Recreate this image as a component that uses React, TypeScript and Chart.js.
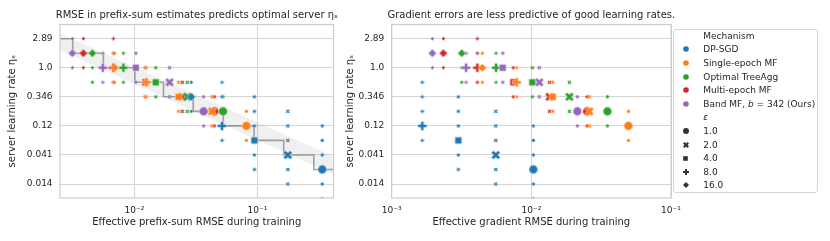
import React, { useEffect, useRef } from 'react';
import { Chart, registerables } from 'chart.js';

Chart.register(...registerables);

const FONT = 'DejaVu Sans';
const TEXT = '#262626';
const GRID = '#d5d5d5';
const SPINE = '#cccccc';

// ---------------- categories ----------------
const mechanisms = ['DP-SGD', 'Single-epoch MF', 'Optimal TreeAgg', 'Multi-epoch MF', 'Band MF'];
const mechColors = ['#1f77b4', '#ff7f0e', '#2ca02c', '#d62728', '#9467bd'];
const epsilonLabels = ['1.0', '2.0', '4.0', '8.0', '16.0'];
const epsilonMarkers = ['o', 'X', 's', 'P', 'D'];

// ---------------- axis ticks ----------------
const etaTicks = [2.89, 1.0, 0.346, 0.1197, 0.0414, 0.01433];
const etaTickLabels = ['2.89', '1.0', '0.346', '0.12', '0.041', '0.014'];
const prefixTicks = [0.01, 0.1];
const prefixTickLabels = ['10⁻²', '10⁻¹'];
const gradTicks = [0.001, 0.01, 0.1];
const gradTickLabels = ['10⁻³', '10⁻²', '10⁻¹'];

// ---------------- effective prefix-sum RMSE (eps = 1, 2, 4, 8, 16) ----------------
const prefixRmseDPSGD = [0.3368, 0.1766, 0.09454, 0.05156, 0.02898];
const prefixRmseSingle = [0.08135, 0.04274, 0.02284, 0.01246, 0.006898];
const prefixRmseTree = [0.05254, 0.02689, 0.01489, 0.008134, 0.004546];
const prefixRmseMulti = [0.0447, 0.0245, 0.01223, 0.006745, 0.003842];
const prefixRmseBand = [0.0365, 0.01929, 0.01027, 0.005527, 0.003125];

// ---------------- effective gradient RMSE (eps = 1, 2, 4, 8, 16) ----------------
const gradRmseDPSGD = [0.01033, 0.005559, 0.003, 0.001656, 0.0008];
const gradRmseSingle = [0.04954, 0.02603, 0.01424, 0.007859, 0.004457];
const gradRmseTree = [0.03503, 0.01872, 0.01017, 0.005586, 0.003172];
const gradRmseMulti = [0.02506, 0.0135, 0.007431, 0.004104, 0.002342];
const gradRmseBand = [0.02135, 0.01141, 0.006239, 0.003406, 0.001954];

// ---------------- best server learning rate (eps = 1, 2, 4, 8, 16) ----------------
const bestEtaDPSGD = [0.0244, 0.0414, 0.0704, 0.1197, 0.346];
const bestEtaSingle = [0.1197, 0.2035, 0.346, 0.588, 1.0];
const bestEtaTree = [0.2035, 0.346, 0.588, 1.0, 1.7];
const bestEtaMulti = [0.2035, 0.346, 0.588, 1.0, 1.7];
const bestEtaBand = [0.2035, 0.588, 1.0, 1.0, 1.7];

// ---------------- learning rates tried (eps = 1, 2, 4, 8, 16) ----------------
const triedEtaDPSGD = [
  [0.1197, 0.0704, 0.0414, 0.0244, 0.01433, 0.00843],
  [0.2035, 0.1197, 0.0704, 0.0414, 0.0244, 0.01433],
  [0.346, 0.2035, 0.1197, 0.0704, 0.0414, 0.0244],
  [0.588, 0.346, 0.2035, 0.1197, 0.0704],
  [0.588, 0.346, 0.2035],
];
const triedEtaSingle = [
  [0.2035, 0.1197, 0.0704],
  [0.346, 0.2035, 0.1197],
  [0.588, 0.346, 0.2035],
  [1.0, 0.588, 0.346],
  [1.7, 1.0, 0.588],
];
const triedEtaTree = [
  [0.346, 0.2035, 0.1197],
  [0.588, 0.346, 0.2035],
  [1.0, 0.588, 0.346],
  [1.7, 1.0, 0.588],
  [1.7, 1.0, 0.588],
];
const triedEtaMulti = [
  [0.346, 0.2035, 0.1197],
  [0.588, 0.346, 0.2035],
  [1.0, 0.588, 0.346],
  [2.89, 1.7, 1.0, 0.588],
  [2.89, 1.7, 1.0],
];
const triedEtaBand = [
  [0.346, 0.2035, 0.1197],
  [1.0, 0.588, 0.346],
  [1.7, 1.0, 0.588],
  [1.7, 1.0, 0.588],
  [2.89, 1.7, 1.0],
];

// ---------------- predicted learning rate (step line) and band ----------------
const stepRmse = [0.00248, 0.003147, 0.005589, 0.01008, 0.01723, 0.03009, 0.05283, 0.094, 0.1638, 0.2876, 0.416];
const stepEta = [2.89, 1.7, 1.0, 0.588, 0.346, 0.2035, 0.1197, 0.0704, 0.0414, 0.0244, 0.0244];
const bandRmse = [0.00248, 0.416];
const bandEtaHigh = [3.5, 0.039];
const bandEtaLow = [1.92, 0.0201];

const series = [
  { prefix: prefixRmseDPSGD, grad: gradRmseDPSGD, best: bestEtaDPSGD, tried: triedEtaDPSGD },
  { prefix: prefixRmseSingle, grad: gradRmseSingle, best: bestEtaSingle, tried: triedEtaSingle },
  { prefix: prefixRmseTree, grad: gradRmseTree, best: bestEtaTree, tried: triedEtaTree },
  { prefix: prefixRmseMulti, grad: gradRmseMulti, best: bestEtaMulti, tried: triedEtaMulti },
  { prefix: prefixRmseBand, grad: gradRmseBand, best: bestEtaBand, tried: triedEtaBand },
];

// drawing stack, bottom -> top
const drawStack = [3, 2, 0, 1, 4];

// ---------------- marker shapes ----------------
const PLUS_PTS = [[-1, -3], [1, -3], [1, -1], [3, -1], [3, 1], [1, 1], [1, 3], [-1, 3], [-1, 1], [-3, 1], [-3, -1], [-1, -1]];
const X_PTS = [[-1, -2], [0, -1], [1, -2], [2, -1], [1, 0], [2, 1], [1, 2], [0, 1], [-1, 2], [-2, 1], [-1, 0], [-2, -1]];
const BIG_SIZE: Record<string, number> = { o: 8.8, X: 9.0, s: 6.8, P: 9.0, D: 8.4 };
const SMALL_SIZE: Record<string, number> = { o: 3.6, X: 4.2, s: 3.2, P: 4.2, D: 4.0 };

function polyPts(shape: string, size: number): number[][] {
  const h = size / 2;
  if (shape === 's') return [[-h, -h], [h, -h], [h, h], [-h, h]];
  if (shape === 'D') return [[0, -h], [h, 0], [0, h], [-h, 0]];
  const pts = shape === 'P' ? PLUS_PTS : X_PTS;
  const f = shape === 'P' ? size / 6 : size / 4;
  return pts.map(([a, b]) => [a * f, b * f]);
}

function makeMarker(shape: string, color: string, size: number, edge: number): HTMLCanvasElement {
  const dim = Math.ceil(size + edge * 2 + 4);
  const c = document.createElement('canvas');
  c.width = dim;
  c.height = dim;
  const ctx = c.getContext('2d')!;
  ctx.translate(dim / 2, dim / 2);
  ctx.beginPath();
  if (shape === 'o') {
    ctx.arc(0, 0, size / 2, 0, Math.PI * 2);
  } else {
    polyPts(shape, size).forEach(([x, y], i) => (i ? ctx.lineTo(x, y) : ctx.moveTo(x, y)));
    ctx.closePath();
  }
  ctx.fillStyle = color;
  ctx.fill();
  if (edge > 0) {
    ctx.lineWidth = edge;
    ctx.strokeStyle = '#ffffff';
    ctx.lineJoin = 'miter';
    ctx.stroke();
  }
  return c;
}

function svgPath(shape: string, size: number): string {
  const h = size / 2;
  if (shape === 'o') return `M ${h} 0 A ${h} ${h} 0 1 0 ${-h} 0 A ${h} ${h} 0 1 0 ${h} 0 Z`;
  return 'M ' + polyPts(shape, size).map(([x, y]) => `${x.toFixed(2)} ${y.toFixed(2)}`).join(' L ') + ' Z';
}

const framePlugin = {
  id: 'frame',
  afterDatasetsDraw(chart: any) {
    const { ctx, chartArea: a } = chart;
    ctx.save();
    ctx.strokeStyle = SPINE;
    ctx.lineWidth = 1.2;
    ctx.strokeRect(a.left, a.top, a.right - a.left, a.bottom - a.top);
    ctx.restore();
  },
};

// panel title centred over the plotting area (wider than the area, so not squeezed)
const panelTitlePlugin = {
  id: 'panelTitle',
  afterDraw(chart: any, _args: any, opts: any) {
    if (!opts || !opts.text) return;
    const { ctx, chartArea: a } = chart;
    ctx.save();
    ctx.font = `10px ${FONT}`;
    ctx.fillStyle = TEXT;
    ctx.textAlign = 'center';
    ctx.textBaseline = 'middle';
    ctx.fillText(opts.text, (a.left + a.right) / 2, opts.y);
    ctx.restore();
  },
};

function labelFrom(values: number[], labels: string[]) {
  return (v: any) => {
    const val = Number(v);
    let best = 0;
    values.forEach((t, i) => {
      if (Math.abs(Math.log(t / val)) < Math.abs(Math.log(values[best] / val))) best = i;
    });
    return labels[best];
  };
}

type PanelCfg = {
  which: 'prefix' | 'grad';
  title: string;
  xTitle: string;
  xMin: number;
  xMax: number;
  xTicks: number[];
  xTickLabels: string[];
  yAxisWidth: number;
  yTitlePad: number;
  padRight: number;
  withStep: boolean;
};

function buildConfig(cfg: PanelCfg, markers: HTMLCanvasElement[][][]): any {
  const datasets: any[] = [];
  drawStack.forEach((m, pos) => {
    const s = series[m];
    const xs = cfg.which === 'prefix' ? s.prefix : s.grad;
    const small: any[] = [];
    s.tried.forEach((list, e) => {
      list.forEach((eta) => {
        if (eta !== s.best[e]) small.push({ x: xs[e], y: eta, e });
      });
    });
    const big = s.best.map((eta, e) => ({ x: xs[e], y: eta, e }));
    const styleFor = (sz: number) => (ctx: any) => (ctx.raw ? markers[m][ctx.raw.e][sz] : 'circle');
    datasets.push({
      type: 'scatter',
      label: mechanisms[m] + ' (other)',
      data: small,
      order: 40 - pos,
      pointStyle: styleFor(0),
      pointRadius: 2,
      borderWidth: 0,
    });
    datasets.push({
      type: 'scatter',
      label: mechanisms[m],
      data: big,
      order: 20 - pos,
      pointStyle: styleFor(1),
      pointRadius: 4,
      borderWidth: 0,
    });
  });
  if (cfg.withStep) {
    datasets.push({
      type: 'line',
      label: 'band high',
      data: bandRmse.map((x, i) => ({ x, y: bandEtaHigh[i] })),
      order: 91,
      fill: '+1',
      backgroundColor: 'rgba(140,140,140,0.13)',
      borderColor: 'transparent',
      borderWidth: 0,
      pointRadius: 0,
    });
    datasets.push({
      type: 'line',
      label: 'band low',
      data: bandRmse.map((x, i) => ({ x, y: bandEtaLow[i] })),
      order: 92,
      fill: false,
      borderColor: 'transparent',
      borderWidth: 0,
      pointRadius: 0,
    });
    datasets.push({
      type: 'line',
      label: 'predicted',
      data: stepRmse.map((x, i) => ({ x, y: stepEta[i] })),
      order: 80,
      stepped: true,
      fill: false,
      borderColor: 'rgba(128,128,128,0.72)',
      borderWidth: 1.6,
      pointRadius: 0,
    });
  }

  return {
    type: 'scatter',
    data: { datasets },
    options: {
      responsive: false,
      animation: false,
      events: [],
      layout: { padding: { left: 0, right: cfg.padRight, top: 24.5, bottom: 0 } },
      plugins: {
        legend: { display: false },
        tooltip: { enabled: false },
        title: { display: false },
        panelTitle: { text: cfg.title, y: 15.3 },
      },
      scales: {
        x: {
          type: 'logarithmic',
          min: cfg.xMin,
          max: cfg.xMax,
          afterBuildTicks: (scale: any) => {
            scale.ticks = cfg.xTicks.map((v) => ({ value: v }));
          },
          afterFit: (scale: any) => {
            scale.height = 43;
          },
          grid: { color: GRID, lineWidth: 1, drawTicks: false },
          border: { display: false },
          ticks: {
            autoSkip: false,
            maxRotation: 0,
            padding: 7.2,
            color: TEXT,
            font: { family: FONT, size: 9 },
            callback: labelFrom(cfg.xTicks, cfg.xTickLabels),
          },
          title: {
            display: true,
            text: cfg.xTitle,
            color: TEXT,
            font: { family: FONT, size: 10 },
            padding: { top: 0, bottom: 12.5 },
          },
        },
        y: {
          type: 'logarithmic',
          min: 0.0086,
          max: 4.85,
          afterBuildTicks: (scale: any) => {
            scale.ticks = etaTicks.map((v) => ({ value: v }));
          },
          afterFit: (scale: any) => {
            scale.width = cfg.yAxisWidth;
          },
          grid: { color: GRID, lineWidth: 1, drawTicks: false },
          border: { display: false },
          ticks: {
            autoSkip: false,
            padding: 7.4,
            color: TEXT,
            font: { family: FONT, size: 9 },
            callback: labelFrom(etaTicks, etaTickLabels),
          },
          title: {
            display: true,
            text: 'server learning rate ηₛ',
            color: TEXT,
            font: { family: FONT, size: 10 },
            padding: { top: cfg.yTitlePad, bottom: 0 },
          },
        },
      },
    },
    plugins: [framePlugin, panelTitlePlugin],
  };
}

const LEFT_W = 342;
const RIGHT_X = 342;
const RIGHT_W = 358;

const leftCfg: PanelCfg = {
  which: 'prefix',
  title: 'RMSE in prefix-sum estimates predicts optimal server ηₛ',
  xTitle: 'Effective prefix-sum RMSE during training',
  xMin: 0.00248,
  xMax: 0.416,
  xTicks: prefixTicks,
  xTickLabels: prefixTickLabels,
  yAxisWidth: 60,
  yTitlePad: 6.5,
  padRight: LEFT_W - 333.5,
  withStep: true,
};

const rightCfg: PanelCfg = {
  which: 'grad',
  title: 'Gradient errors are less predictive of good learning rates.',
  xTitle: 'Effective gradient RMSE during training',
  xMin: 0.001,
  xMax: 0.1,
  xTicks: gradTicks,
  xTickLabels: gradTickLabels,
  yAxisWidth: 391.7 - RIGHT_X,
  yTitlePad: 350.7 - RIGHT_X - 6,
  padRight: RIGHT_X + RIGHT_W - 671,
  withStep: false,
};

function LegendMarker({ shape, color, size, cx, cy }: { shape: string; color: string; size: number; cx: number; cy: number }) {
  const w = Math.ceil(size + 2);
  return (
    <svg
      width={w}
      height={w}
      viewBox={`${-w / 2} ${-w / 2} ${w} ${w}`}
      style={{ position: 'absolute', left: cx - w / 2, top: cy - w / 2 }}
    >
      <path d={svgPath(shape, size)} fill={color} />
    </svg>
  );
}

function Legend() {
  const boxLeft = 673;
  const boxTop = 29;
  const innerX = boxLeft + 1;
  const innerY = boxTop + 1;
  const rowY = (i: number) => 35.7 + i * 13.6 - innerY;
  const markerX = 685.7 - innerX;
  const textX = 703.3 - innerX;
  const rows: any[] = [];
  const textStyle = (i: number): React.CSSProperties => ({
    position: 'absolute',
    left: textX,
    top: rowY(i) - 6,
    height: 12,
    lineHeight: '12px',
    whiteSpace: 'nowrap',
  });
  rows.push(<div key="t1" style={textStyle(0)}>Mechanism</div>);
  mechanisms.forEach((name, i) => {
    rows.push(<LegendMarker key={'mm' + i} shape="o" color={mechColors[i]} size={5.6} cx={markerX} cy={rowY(i + 1)} />);
    rows.push(
      <div key={'mt' + i} style={textStyle(i + 1)}>
        {i === 4 ? (
          <span>
            {name}, <i>b</i> = 342 (Ours)
          </span>
        ) : (
          name
        )}
      </div>
    );
  });
  rows.push(
    <div key="t2" style={textStyle(6)}>
      <i>ε</i>
    </div>
  );
  epsilonLabels.forEach((lab, i) => {
    const shape = epsilonMarkers[i];
    const sz = shape === 's' ? 4.6 : 6;
    rows.push(<LegendMarker key={'em' + i} shape={shape} color="#333333" size={sz} cx={markerX} cy={rowY(i + 7)} />);
    rows.push(
      <div key={'et' + i} style={textStyle(i + 7)}>
        {lab}
      </div>
    );
  });
  return (
    <div
      style={{
        position: 'absolute',
        left: boxLeft,
        top: boxTop,
        width: 145,
        height: 164,
        boxSizing: 'border-box',
        border: '1px solid #d6d6d6',
        borderRadius: 3,
        background: 'rgba(255,255,255,0.85)',
        fontFamily: FONT,
        fontSize: 9,
        color: TEXT,
      }}
    >
      {rows}
    </div>
  );
}

export default function App() {
  const leftRef = useRef<HTMLCanvasElement>(null);
  const rightRef = useRef<HTMLCanvasElement>(null);

  useEffect(() => {
    Chart.defaults.font.family = FONT;
    const markers = mechColors.map((col) =>
      epsilonMarkers.map((shape) => [
        makeMarker(shape, col, SMALL_SIZE[shape], 0.35),
        makeMarker(shape, col, BIG_SIZE[shape], 0.5),
      ])
    );
    const charts: Chart[] = [];
    if (leftRef.current) charts.push(new Chart(leftRef.current, buildConfig(leftCfg, markers)));
    if (rightRef.current) charts.push(new Chart(rightRef.current, buildConfig(rightCfg, markers)));
    return () => charts.forEach((c) => c.destroy());
  }, []);

  return (
    <div style={{ position: 'absolute', left: 0, top: 0, width: 830, height: 241, background: '#ffffff', overflow: 'hidden' }}>
      <canvas ref={leftRef} width={LEFT_W} height={241} style={{ position: 'absolute', left: 0, top: 0, width: LEFT_W, height: 241 }} />
      <canvas ref={rightRef} width={RIGHT_W} height={241} style={{ position: 'absolute', left: RIGHT_X, top: 0, width: RIGHT_W, height: 241 }} />
      <Legend />
    </div>
  );
}
